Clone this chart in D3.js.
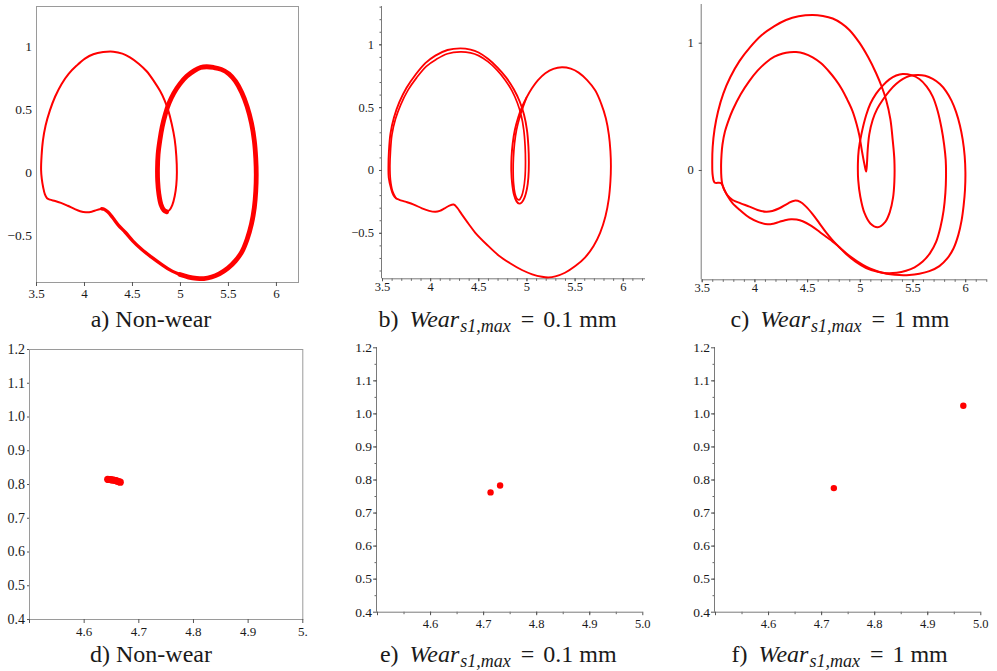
<!DOCTYPE html>
<html>
<head>
<meta charset="utf-8">
<script src="https://cdn.jsdelivr.net/npm/d3@7"></script>
<style>
  body { margin: 0; background: #fff; }
  svg { display: block; }
</style>
</head>
<body>
<svg id="fig" width="997" height="671"></svg>
<script>
// ---------- phase portraits (x = displacement, y = velocity) ----------

// a) non-wear: single cycle, drawn in three stretches (thin, banded, lower leg)
const nonWearThin = [
  [4.184,-0.289],[4.13,-0.30],[4.08,-0.312],[4.02,-0.316],[3.96,-0.308],[3.90,-0.29],[3.83,-0.265],
  [3.76,-0.242],[3.70,-0.227],[3.645,-0.217],[3.615,-0.205],[3.593,-0.175],[3.575,-0.12],[3.56,-0.05],
  [3.553,0.02],[3.558,0.13],[3.572,0.25],[3.60,0.37],[3.645,0.49],[3.70,0.60],[3.767,0.70],[3.84,0.78],
  [3.924,0.845],[4.01,0.90],[4.097,0.935],[4.20,0.952],[4.306,0.955],[4.40,0.94],[4.479,0.91],
  [4.57,0.86],[4.653,0.80],[4.73,0.72],[4.792,0.645],[4.84,0.57],[4.878,0.49],[4.915,0.38],
  [4.945,0.26],[4.962,0.13],[4.968,0.0],[4.962,-0.10],[4.945,-0.19],[4.92,-0.26],[4.89,-0.30],[4.861,-0.313]
];
const nonWearBand = [
  [4.861,-0.313],[4.832,-0.30],[4.802,-0.255],[4.78,-0.17],[4.768,-0.07],[4.766,0.03],[4.772,0.14],
  [4.79,0.25],[4.815,0.36],[4.848,0.46],[4.885,0.545],[4.935,0.625],[5.0,0.70],[5.07,0.76],[5.15,0.805],
  [5.215,0.83],[5.278,0.836],[5.35,0.83],[5.43,0.815],[5.51,0.78],[5.58,0.72],[5.645,0.63],[5.70,0.52],
  [5.745,0.39],[5.775,0.25],[5.79,0.11],[5.795,-0.02],[5.79,-0.15],[5.775,-0.28],[5.745,-0.41],
  [5.70,-0.53],[5.645,-0.63],[5.58,-0.70],[5.50,-0.76],[5.41,-0.805],[5.33,-0.83],[5.25,-0.842],
  [5.174,-0.84],[5.09,-0.83],[5.0,-0.81]
];
const nonWearLeg = [
  [5.0,-0.81],[4.90,-0.775],[4.80,-0.725],[4.70,-0.67],[4.60,-0.61],[4.51,-0.545],[4.43,-0.475],
  [4.36,-0.42],[4.30,-0.36],[4.25,-0.315],[4.21,-0.293],[4.184,-0.289]
];

// b) wear 0.1 mm: closed outer cycle plus the inner strand of the second turn
const wear01Cycle = [
  [3.57,-0.06],[3.567,0.03],[3.572,0.15],[3.588,0.29],[3.625,0.42],[3.68,0.54],[3.755,0.655],
  [3.846,0.756],[3.95,0.85],[4.054,0.91],[4.18,0.955],[4.313,0.968],[4.42,0.958],[4.503,0.935],
  [4.60,0.885],[4.70,0.815],[4.79,0.735],[4.867,0.645],[4.93,0.545],[4.975,0.44],[5.005,0.32],
  [5.02,0.19],[5.025,0.06],[5.02,-0.06],[5.005,-0.15],[4.98,-0.22],[4.952,-0.258],[4.925,-0.268],
  [4.897,-0.25],[4.87,-0.195],[4.852,-0.11],[4.843,-0.01],[4.845,0.10],[4.857,0.21],[4.88,0.32],
  [4.915,0.42],[4.953,0.5],[5.0,0.575],[5.057,0.65],[5.12,0.715],[5.196,0.77],[5.28,0.805],
  [5.369,0.817],[5.46,0.806],[5.542,0.775],[5.63,0.715],[5.715,0.632],[5.775,0.53],[5.825,0.41],
  [5.856,0.28],[5.872,0.15],[5.877,0.03],[5.872,-0.09],[5.855,-0.23],[5.82,-0.37],[5.765,-0.50],
  [5.697,-0.605],[5.61,-0.695],[5.507,-0.765],[5.40,-0.818],[5.30,-0.847],[5.23,-0.855],[5.161,-0.85],
  [5.06,-0.83],[4.953,-0.796],[4.83,-0.742],[4.711,-0.68],[4.59,-0.595],[4.469,-0.5],[4.40,-0.43],
  [4.33,-0.355],[4.28,-0.3],[4.244,-0.275],[4.20,-0.283],[4.15,-0.305],[4.10,-0.325],[4.054,-0.332],
  [3.99,-0.325],[3.915,-0.305],[3.83,-0.275],[3.742,-0.252],[3.68,-0.237],[3.645,-0.225],
  [3.618,-0.2],[3.595,-0.15]
];
const wear01Inner = [
  [3.645,-0.225],[3.61,-0.17],[3.588,-0.08],[3.582,0.03],[3.588,0.15],[3.603,0.28],[3.64,0.405],
  [3.695,0.52],[3.77,0.635],[3.86,0.735],[3.96,0.825],[4.062,0.88],[4.18,0.925],[4.313,0.94],
  [4.42,0.932],[4.503,0.91],[4.60,0.862],[4.695,0.795],[4.78,0.715],[4.85,0.63],[4.905,0.535],
  [4.945,0.435],[4.972,0.32],[4.986,0.19],[4.99,0.06],[4.985,-0.06],[4.97,-0.15],[4.95,-0.208],
  [4.925,-0.238],[4.9,-0.228],[4.88,-0.185],[4.866,-0.105],[4.862,-0.01],[4.865,0.10],[4.876,0.21],
  [4.897,0.32],[4.93,0.42],[4.96,0.49],[5.0,0.575]
];

// c) wear 1 mm: two distinct turns of a period-2 orbit
const wear1TurnA = [
  [3.715,-0.157],[3.684,-0.104],[3.622,-0.098],[3.604,-0.04],[3.600,0.05],[3.604,0.18],[3.622,0.32],
  [3.655,0.46],[3.705,0.60],[3.772,0.73],[3.858,0.855],[3.96,0.965],[4.07,1.06],[4.19,1.13],
  [4.30,1.178],[4.42,1.208],[4.553,1.218],[4.65,1.21],[4.743,1.19],[4.826,1.152],[4.901,1.1],
  [4.996,1.0],[5.08,0.885],[5.155,0.76],[5.21,0.65],[5.25,0.55],[5.29,0.40],[5.312,0.236],
  [5.328,0.079],[5.328,-0.09],[5.315,-0.22],[5.285,-0.33],[5.24,-0.41],[5.17,-0.45],[5.10,-0.42],
  [5.045,-0.34],[5.005,-0.21],[4.985,-0.08],[4.982,0.05],[4.99,0.16],[5.015,0.28],[5.06,0.43],
  [5.10,0.52],[5.155,0.60],[5.22,0.665],[5.281,0.712],[5.345,0.742],[5.407,0.754],[5.49,0.745],
  [5.565,0.715],[5.635,0.655],[5.692,0.576],[5.74,0.46],[5.775,0.33],[5.80,0.2],[5.815,0.08],
  [5.818,-0.05],[5.812,-0.18],[5.795,-0.32],[5.765,-0.45],[5.724,-0.565],[5.665,-0.655],[5.597,-0.72],
  [5.52,-0.765],[5.439,-0.792],[5.35,-0.808],[5.25,-0.811],[5.17,-0.80],[5.06,-0.77],[4.96,-0.72],
  [4.87,-0.66],[4.806,-0.607],[4.743,-0.553],[4.68,-0.49],[4.617,-0.419],[4.55,-0.345],[4.49,-0.288],
  [4.435,-0.25],[4.38,-0.241],[4.32,-0.262],[4.237,-0.301],[4.17,-0.322],[4.111,-0.328],[4.03,-0.314],
  [3.953,-0.288],[3.87,-0.262],[3.794,-0.236],[3.745,-0.2]
];
const wear1TurnB = [
  [3.715,-0.157],[3.695,-0.11],[3.687,-0.06],[3.684,0.039],[3.688,0.12],[3.697,0.2],[3.72,0.30],
  [3.755,0.39],[3.794,0.471],[3.87,0.595],[3.953,0.7],[4.03,0.78],[4.111,0.845],[4.19,0.89],
  [4.269,0.915],[4.335,0.925],[4.396,0.926],[4.47,0.915],[4.553,0.885],[4.63,0.84],[4.712,0.77],
  [4.77,0.71],[4.83,0.635],[4.88,0.555],[4.93,0.465],[4.97,0.36],[4.996,0.27],[5.02,0.15],
  [5.045,0.04],[5.06,-0.013],[5.068,0.05],[5.075,0.16],[5.09,0.28],[5.122,0.393],[5.165,0.48],
  [5.217,0.55],[5.28,0.62],[5.344,0.675],[5.41,0.715],[5.47,0.738],[5.549,0.746],[5.62,0.74],
  [5.692,0.715],[5.76,0.675],[5.819,0.618],[5.87,0.545],[5.914,0.455],[5.95,0.35],[5.976,0.24],
  [5.995,0.11],[6.002,-0.02],[5.998,-0.157],[5.985,-0.28],[5.965,-0.40],[5.935,-0.51],[5.89,-0.615],
  [5.83,-0.695],[5.755,-0.755],[5.66,-0.795],[5.565,-0.815],[5.47,-0.825],[5.376,-0.826],[5.29,-0.82],
  [5.217,-0.808],[5.14,-0.788],[5.06,-0.76],[4.98,-0.72],[4.901,-0.675],[4.806,-0.607],[4.743,-0.563],
  [4.68,-0.525],[4.617,-0.485],[4.54,-0.44],[4.458,-0.403],[4.40,-0.39],[4.348,-0.387],[4.29,-0.395],
  [4.237,-0.408],[4.18,-0.422],[4.126,-0.427],[4.04,-0.41],[3.953,-0.375],[3.87,-0.32],[3.794,-0.262],
  [3.75,-0.21]
];

// ---------- Poincaré sections ----------
const nonWearSection = [
  [4.644,0.814],[4.646,0.8133],[4.649,0.8131],[4.651,0.8124],[4.654,0.8118],[4.656,0.8109],
  [4.659,0.8101],[4.661,0.8088],[4.664,0.8072],[4.667,0.8055]
];
const wear01Section = [[4.714,0.761],[4.732,0.782]];
const wear1Section = [[4.724,0.774],[4.968,1.023]];

// ---------- ticks and labels ----------
const phaseXTicks = [3.5, 4, 4.5, 5, 5.5, 6];
const phaseXLabels = ["3.5", "4", "4.5", "5", "5.5", "6"];
const phaseYTicks = [-0.5, 0, 0.5, 1];
const phaseYLabels = ["\u22120.5", "0", "0.5", "1"];
const wideYTicks = [0, 1];
const wideYLabels = ["0", "1"];
const sectionXTicks = [4.6, 4.7, 4.8, 4.9, 5.0];
const sectionXLabels = ["4.6", "4.7", "4.8", "4.9", "5.0"];
const sectionXLabelsCut = ["4.6", "4.7", "4.8", "4.9", "5."];
const sectionYTicks = [0.4, 0.5, 0.6, 0.7, 0.8, 0.9, 1.0, 1.1, 1.2];
const sectionYLabels = ["0.4", "0.5", "0.6", "0.7", "0.8", "0.9", "1.0", "1.1", "1.2"];

// captions: letter and wear depth (null = non-wear)
const captionLetters = ["a)", "b)", "c)", "d)", "e)", "f)"];
const captionWear = [null, "0.1", "1", null, "0.1", "1"];

// ---------- drawing ----------
const FONT = '"Liberation Serif", "Times New Roman", serif';
const svg = d3.select("#fig");
const RED = "#ff0000";
const AXIS = "#7a7a7a";

const tenths = (a, b) => d3.range(Math.round(a * 10), Math.round(b * 10) + 1).map(v => v / 10);
const twentieths = (a, b) => d3.range(Math.round(a * 20), Math.round(b * 20) + 1).map(v => v / 20);

function drawPanel(p) {
  const x = d3.scaleLinear().domain(p.xDomain).range(p.xRange);
  const y = d3.scaleLinear().domain(p.yDomain).range(p.yRange);
  const g = svg.append("g");

  if (p.frame) {
    g.append("rect")
      .attr("x", p.xRange[0] + 0.5).attr("y", p.yRange[1] + 0.5)
      .attr("width", p.xRange[1] - p.xRange[0]).attr("height", p.yRange[0] - p.yRange[1])
      .attr("fill", "none").attr("stroke", "#9a9a9a").attr("stroke-width", 1);
  }

  // minor ticks
  if (p.xMinor) {
    g.append("g").attr("transform", `translate(0,${p.yRange[0]})`)
      .call(d3.axisBottom(x).tickValues(p.xMinor).tickFormat("").tickSize(2.5).tickSizeOuter(0))
      .call(s => s.select(".domain").remove())
      .call(s => s.selectAll("line").attr("stroke", "#666"));
  }
  if (p.yMinor) {
    g.append("g").attr("transform", `translate(${p.xRange[0]},0)`)
      .call(d3.axisLeft(y).tickValues(p.yMinor).tickFormat("").tickSize(2.5).tickSizeOuter(0))
      .call(s => s.select(".domain").remove())
      .call(s => s.selectAll("line").attr("stroke", "#666"));
  }

  // major ticks with labels
  const gx = g.append("g").attr("transform", `translate(0,${p.yRange[0]})`)
    .call(d3.axisBottom(x).tickValues(p.xTicks).tickFormat((d, i) => p.xLabels[i])
      .tickSize(p.xTickLen).tickSizeOuter(0).tickPadding(p.xPad));
  const gy = g.append("g").attr("transform", `translate(${p.xRange[0]},0)`)
    .call(d3.axisLeft(y).tickValues(p.yTicks).tickFormat((d, i) => p.yLabels[i])
      .tickSize(p.yTickLen).tickSizeOuter(0).tickPadding(p.yPad));
  [gx, gy].forEach(a => {
    a.selectAll(".tick line").attr("stroke", "#555");
    a.selectAll(".tick text").attr("fill", "#1a1a1a").style("font-family", FONT);
  });
  gx.selectAll(".tick text").style("font-size", p.xFont + "px");
  gy.selectAll(".tick text").style("font-size", p.yFont + "px");
  if (p.frame) {
    gx.select(".domain").remove();
    gy.select(".domain").remove();
  } else {
    gx.select(".domain").attr("stroke", AXIS)
      .attr("d", `M${p.xRange[0]},0.5H${p.xRange[1]}`);
    gy.select(".domain").attr("stroke", AXIS)
      .attr("d", `M-0.5,${p.yRange[0]}V${p.yRange[1]}`);
  }

  const closed = d3.line().x(d => x(d[0])).y(d => y(d[1])).curve(d3.curveCatmullRomClosed.alpha(0.5));
  const open = d3.line().x(d => x(d[0])).y(d => y(d[1])).curve(d3.curveCatmullRom.alpha(0.5));

  (p.curves || []).forEach(c => {
    g.append("path")
      .attr("d", (c.closed ? closed : open)(c.data))
      .attr("fill", "none").attr("stroke", RED)
      .attr("stroke-width", c.width).attr("stroke-linejoin", "round").attr("stroke-linecap", "round");
  });

  if (p.points) {
    g.selectAll("circle.pt").data(p.points).join("circle")
      .attr("class", "pt")
      .attr("cx", d => x(d[0])).attr("cy", d => y(d[1]))
      .attr("r", p.pointR).attr("fill", RED);
  }

  // caption
  const cap = svg.append("text")
    .attr("x", p.capX).attr("y", p.capY)
    .attr("text-anchor", "middle")
    .style("font-family", FONT)
    .style("font-size", "24px")
    .attr("fill", "#1a1a1a");
  const letter = captionLetters[p.index];
  const wear = captionWear[p.index];
  if (wear === null) {
    cap.append("tspan").text(letter + " Non-wear");
  } else {
    cap.append("tspan").text(letter + " ");
    cap.append("tspan").attr("dx", 5).style("font-style", "italic").text("Wear");
    cap.append("tspan").attr("dy", 5).attr("dx", 1).style("font-style", "italic").style("font-size", "18px").text("s1,max");
    cap.append("tspan").attr("dy", -5).attr("dx", 10).text("=");
    cap.append("tspan").attr("dx", 9).text(wear);
    cap.append("tspan").text(" mm");
  }
}

const panels = [
  { index: 0, frame: true,
    xDomain: [3.5, 6.23], yDomain: [-0.869, 1.317], xRange: [36, 298], yRange: [282, 6],
    xTicks: phaseXTicks, xLabels: phaseXLabels, yTicks: phaseYTicks, yLabels: phaseYLabels,
    xTickLen: 4, xPad: 3, yTickLen: 0, yPad: 4, xFont: 13, yFont: 13.5,
    curves: [
      { data: nonWearThin, width: 2 },
      { data: nonWearLeg, width: 3.4 },
      { data: nonWearBand, width: 4.8 }
    ],
    capX: 151, capY: 327 },
  { index: 1, frame: false,
    xDomain: [3.5, 6.231], yDomain: [-0.862, 1.305], xRange: [382, 645], yRange: [278.3, 6],
    xTicks: phaseXTicks, xLabels: phaseXLabels, yTicks: phaseYTicks, yLabels: phaseYLabels,
    xMinor: tenths(3.5, 6.2), yMinor: tenths(-0.8, 1.3),
    xTickLen: 3, xPad: 1, yTickLen: 3, yPad: 5, xFont: 12.5, yFont: 12.5,
    curves: [
      { data: wear01Cycle, width: 1.9, closed: true },
      { data: wear01Inner, width: 1.7 }
    ],
    capX: 497.5, capY: 327 },
  { index: 2, frame: false,
    xDomain: [3.5, 6.204], yDomain: [-0.859, 1.304], xRange: [701.7, 986.7], yRange: [279.3, 4],
    xTicks: phaseXTicks, xLabels: phaseXLabels, yTicks: wideYTicks, yLabels: wideYLabels,
    xMinor: tenths(3.5, 6.2),
    xTickLen: 3, xPad: 1, yTickLen: 3, yPad: 5, xFont: 12.5, yFont: 12.5,
    curves: [
      { data: wear1TurnA, width: 2, closed: true },
      { data: wear1TurnB, width: 2, closed: true }
    ],
    capX: 840, capY: 327 },
  { index: 3, frame: true,
    xDomain: [4.5, 5.0], yDomain: [0.4, 1.2], xRange: [29, 302.3], yRange: [619, 349],
    xTicks: [4.5].concat(sectionXTicks), xLabels: [""].concat(sectionXLabelsCut),
    yTicks: sectionYTicks, yLabels: sectionYLabels,
    xTickLen: 4, xPad: 4, yTickLen: 2, yPad: 2, xFont: 13, yFont: 14,
    points: nonWearSection, pointR: 3.6,
    capX: 151, capY: 662 },
  { index: 4, frame: false,
    xDomain: [4.5, 5.0], yDomain: [0.4, 1.2], xRange: [377, 642.3], yRange: [611.7, 347.3],
    xTicks: [4.5].concat(sectionXTicks), xLabels: [""].concat(sectionXLabels),
    yTicks: sectionYTicks, yLabels: sectionYLabels,
    xMinor: twentieths(4.55, 4.95), yMinor: twentieths(0.45, 1.15),
    xTickLen: 3.5, xPad: 4, yTickLen: 4, yPad: 1, xFont: 12.5, yFont: 13.5,
    points: wear01Section, pointR: 3.2,
    capX: 498.3, capY: 662 },
  { index: 5, frame: false,
    xDomain: [4.5, 5.0], yDomain: [0.4, 1.2], xRange: [715, 980.3], yRange: [611.7, 347.3],
    xTicks: [4.5].concat(sectionXTicks), xLabels: [""].concat(sectionXLabels),
    yTicks: sectionYTicks, yLabels: sectionYLabels,
    xMinor: twentieths(4.55, 4.95), yMinor: twentieths(0.45, 1.15),
    xTickLen: 3.5, xPad: 4, yTickLen: 4, yPad: 1, xFont: 12.5, yFont: 13.5,
    points: wear1Section, pointR: 3.2,
    capX: 839.7, capY: 662 }
];

panels.forEach(drawPanel);
</script>
</body>
</html>
